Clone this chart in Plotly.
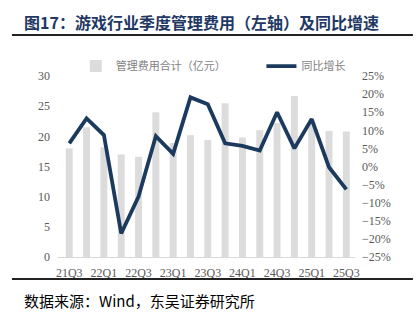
import plotly.graph_objects as go

quarters = ["21Q3","21Q4","22Q1","22Q2","22Q3","22Q4","23Q1","23Q2","23Q3","23Q4",
            "24Q1","24Q2","24Q3","24Q4","25Q1","25Q2","25Q3"]
admin_cost = [18.0, 21.5, 18.2, 17.0, 16.6, 24.0, 18.9, 20.2, 19.4, 25.5,
              19.8, 21.0, 22.2, 26.7, 22.3, 20.9, 20.8]
yoy_growth = [6.4, 13.3, 8.7, -18.5, -8.3, 8.4, 3.5, 19.1, 17.2, 6.4,
              5.7, 4.4, 15.0, 5.0, 13.1, -0.2, -6.3]
tick_labels = ["21Q3","22Q1","22Q3","23Q1","23Q3","24Q1","24Q3","25Q1","25Q3"]

title_text = "图17：游戏行业季度管理费用（左轴）及同比增速"
source_text = "数据来源：Wind，东吴证券研究所"

xs = list(range(len(quarters)))
tickvals = [quarters.index(t) for t in tick_labels]

navy = "#1B3A5E"
tick_font = dict(family="Liberation Serif, Times New Roman, serif", size=12, color="#595959")
legend_font = dict(family="Noto Sans CJK SC", size=11, color="#7F7F7F")

fig = go.Figure()
fig.add_trace(go.Bar(x=xs, y=admin_cost, name="管理费用合计（亿元）",
                     marker=dict(color="#DCDCDC", line=dict(width=0)), width=0.4,
                     yaxis="y", legend="legend"))
fig.add_trace(go.Scatter(x=xs, y=yoy_growth, name="同比增长", mode="lines",
                         line=dict(color=navy, width=3.8), yaxis="y2", legend="legend2"))

fig.update_layout(
    width=420, height=322,
    margin=dict(l=58, r=65, t=76, b=65),
    paper_bgcolor="white", plot_bgcolor="white",
    showlegend=True,
    legend=dict(x=0.06, y=1.055, xanchor="left", yanchor="middle",
                font=legend_font, bgcolor="rgba(0,0,0,0)", itemwidth=30),
    legend2=dict(x=0.685, y=1.055, xanchor="left", yanchor="middle",
                 font=legend_font, bgcolor="rgba(0,0,0,0)", itemwidth=30),
    xaxis=dict(range=[-0.65, 16.5], tickvals=tickvals, ticktext=tick_labels,
               showgrid=False, zeroline=False, showline=True, linecolor="#D9D9D9", linewidth=1,
               ticks="", tickfont=tick_font, ticklabelstandoff=5),
    yaxis=dict(range=[0, 30], dtick=5, showgrid=False, zeroline=False, showline=False,
               ticks="", tickfont=tick_font, ticklabelstandoff=7),
    yaxis2=dict(range=[-25, 25], dtick=5, overlaying="y", side="right", showgrid=False,
                zeroline=False, showline=False, ticks="", ticksuffix="%", tickfont=tick_font,
                ticklabelstandoff=6),
)

fig.add_annotation(text="<b>" + title_text + "</b>", xref="paper", yref="paper",
                   x=-0.121, y=1.298, xanchor="left", yanchor="middle", showarrow=False,
                   font=dict(family="Noto Sans CJK SC", size=16, color="#1F3864"))
fig.add_annotation(text=source_text, xref="paper", yref="paper",
                   x=-0.121, y=-0.238, xanchor="left", yanchor="middle", showarrow=False,
                   font=dict(family="Noto Sans CJK SC", size=15, color="#000000"))

# rules
fig.add_shape(type="line", xref="paper", yref="paper", x0=-0.155, x1=1.195, y0=1.227, y1=1.227,
              line=dict(color="#222222", width=2))
fig.add_shape(type="line", xref="paper", yref="paper", x0=-0.155, x1=1.195, y0=-0.1215, y1=-0.1215,
              line=dict(color="#222222", width=2))

fig.write_html("out.html")
